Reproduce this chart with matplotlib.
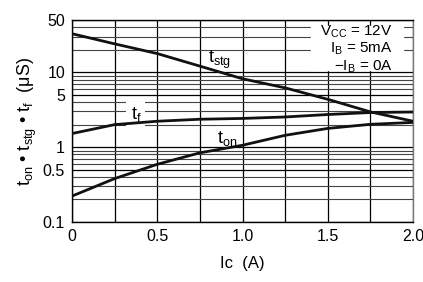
from matplotlib import pyplot as plt
from matplotlib.ticker import LogLocator, NullFormatter

plt.rcParams['font.family'] = ['Liberation Sans', 'DejaVu Sans']
plt.rcParams['mathtext.fontset'] = 'custom'
plt.rcParams['mathtext.rm'] = 'Liberation Sans'

# curves
ic = [0, 0.25, 0.5, 0.75, 1.0, 1.25, 1.5, 1.75, 2.0]
t_stg = [32.8, 24, 17.8, 12.1, 8.2, 6.2, 4.36, 2.96, 2.22]
t_f = [1.52, 2.0, 2.22, 2.36, 2.42, 2.53, 2.73, 2.9, 2.95]
t_on = [0.222, 0.38, 0.59, 0.84, 1.06, 1.44, 1.78, 2.02, 2.14]

yticks = [0.1, 0.5, 1, 5, 10, 50]
ytick_labels = ['0.1', '0.5', '1', '5', '10', '50']
xticks = [0, 0.5, 1.0, 1.5, 2.0]
xtick_labels = ['0', '0.5', '1.0', '1.5', '2.0']

fig = plt.figure(figsize=(4.23, 2.82), dpi=100)
ax = fig.add_axes([72/423, 1 - 222/282, 341/423, 202/282])

ax.set_yscale('log')
ax.set_xlim(0, 2.0)
ax.set_ylim(0.1, 50)

ax.set_xticks(xticks, xtick_labels)
ax.set_xticks([0.25, 0.75, 1.25, 1.75], minor=True)
ax.set_yticks(yticks, ytick_labels)
ax.yaxis.set_minor_locator(LogLocator(base=10, subs=range(2, 10)))
ax.yaxis.set_minor_formatter(NullFormatter())

ax.grid(True, which='major', color='black', lw=0.9)
ax.grid(True, which='minor', axis='x', color='black', lw=0.9)
ax.grid(True, which='minor', axis='y', color='#444444', lw=0.8)
ax.tick_params(which='both', length=0, labelsize=11.5, pad=5)
for s in ax.spines.values():
    s.set_color('black')
    s.set_linewidth(1)
ax.spines['right'].set_color('#777777')

for series in (t_stg, t_f, t_on):
    ax.plot(ic, series, color='#111111', lw=2, zorder=4)

bg = dict(facecolor='white', edgecolor='none', pad=3.0)
ax.text(0.80, 14.5, r'$\mathregular{t_{stg}}$', fontsize=13, ha='left', va='center', zorder=3)
ax.text(0.375, 2.72, r'$\mathregular{t_f}$', fontsize=13, ha='center', va='center', bbox=bg, zorder=3)
ax.text(0.85, 1.32, r'$\mathregular{t_{on}}$', fontsize=13, ha='left', va='center', zorder=3)

legend_lines = [(34.5, r'$\mathregular{V_{CC}}$ = 12V'),
                (20.5, r'$\mathregular{I_B}$ = 5mA'),
                (11.8, r'$\mathregular{-I_B}$ = 0A')]
ax.fill_between([1.40, 1.94], 10.6, 42, color='white', zorder=2)
for yv, txt in legend_lines:
    ax.text(1.88, yv, txt, fontsize=11, ha='right', va='center', zorder=3)

ax.set_xlabel('Ic  (A)', fontsize=12, labelpad=9)
ax.set_ylabel(r'$\mathregular{t_{on}}$' + ' • ' + r'$\mathregular{t_{stg}}$' + ' • '
              + r'$\mathregular{t_f}$' + '  (μS)', fontsize=13, labelpad=3)

fig.savefig('out.png', dpi=100)
